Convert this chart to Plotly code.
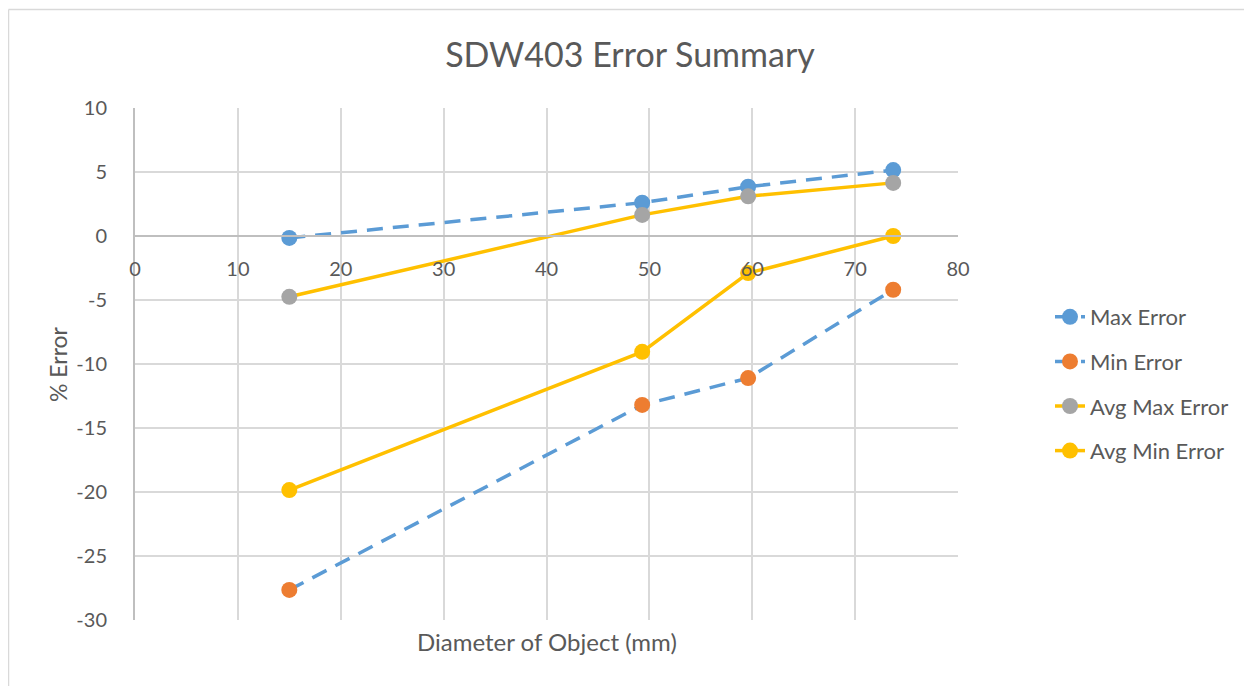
import plotly.graph_objects as go

diam = [15.0, 49.3, 59.6, 73.7]
max_error = [-0.15, 2.6, 3.85, 5.15]
min_error = [-27.65, -13.2, -11.1, -4.2]
avg_max_error = [-4.75, 1.65, 3.1, 4.15]
avg_min_error = [-19.85, -9.05, -2.9, 0.0]

x_ticks = [0, 10, 20, 30, 40, 50, 60, 70, 80]
y_ticks = [10, 5, 0, -5, -10, -15, -20, -25, -30]
y_tick_text = [str(v) for v in y_ticks]

FONT = "Lato"
TXT = "#595959"
W, H = 1252, 686
L, R, T, B = 127, 950, 100, 612

def px(x):
    return (x - L) / (R - L)

def py(y):
    return (B - y) / (B - T)

fig = go.Figure()
series = [
    ("Max Error", max_error, "#5B9BD5", "#5B9BD5", "16px,10px"),
    ("Min Error", min_error, "#5B9BD5", "#ED7D31", "16px,10px"),
    ("Avg Max Error", avg_max_error, "#FFC000", "#A5A5A5", "solid"),
    ("Avg Min Error", avg_min_error, "#FFC000", "#FFC000", "solid"),
]
for name, ys, lc, mc, dash in series:
    fig.add_trace(go.Scatter(
        x=diam, y=ys, name=name, mode="lines+markers",
        line=dict(color=lc, width=3.5, dash=dash),
        marker=dict(color=mc, size=16),
        legendgroup=name,
    ))

fig.update_layout(
    width=W, height=H,
    margin=dict(l=L, r=W - R, t=T, b=H - B),
    paper_bgcolor="white", plot_bgcolor="white",
    font=dict(family=FONT, color=TXT, size=20),
    title=dict(text="SDW403 Error Summary", x=622 / W, xanchor="center",
               y=1 - 47 / H, yanchor="middle",
               font=dict(family=FONT, size=34, color=TXT)),
    xaxis=dict(range=[0, 80], tickvals=x_ticks, showgrid=True, gridcolor="#D9D9D9",
               gridwidth=1.5, zeroline=False, showline=True, linecolor="#BFBFBF",
               linewidth=2, anchor="free", position=0.75, ticks="",
               ticklabelstandoff=15,
               tickfont=dict(size=20, color=TXT)),
    yaxis=dict(range=[-30, 10], tickvals=y_ticks, ticktext=y_tick_text,
               showgrid=True, gridcolor="#D9D9D9",
               gridwidth=1.5, zeroline=False, showline=True, linecolor="#BFBFBF",
               linewidth=2, ticks="", ticklabelstandoff=22,
               tickfont=dict(size=20, color=TXT)),
    legend=dict(x=px(1042), y=py(288), xanchor="left", yanchor="top",
                font=dict(size=22, color=TXT), tracegroupgap=13,
                bgcolor="rgba(0,0,0,0)"),
    annotations=[
        dict(text="Diameter of Object (mm)", xref="paper", yref="paper",
             x=px(538.5), y=py(633), xanchor="center", yanchor="middle",
             showarrow=False, font=dict(size=24, color=TXT, family=FONT)),
        dict(text="% Error", xref="paper", yref="paper", textangle=-90,
             x=px(50), y=py(356), xanchor="center", yanchor="middle",
             showarrow=False, font=dict(size=23, color=TXT, family=FONT)),
    ],
    shapes=[
        dict(type="line", xref="paper", yref="paper", x0=px(0.5), x1=px(1270), y0=py(1.5), y1=py(1.5),
             line=dict(color="#D9D9D9", width=1.5)),
        dict(type="line", xref="paper", yref="paper", x0=px(0.5), x1=px(0.5), y0=py(1.5), y1=py(700),
             line=dict(color="#D9D9D9", width=1.5)),
    ],
)

fig.write_html("out.html")
